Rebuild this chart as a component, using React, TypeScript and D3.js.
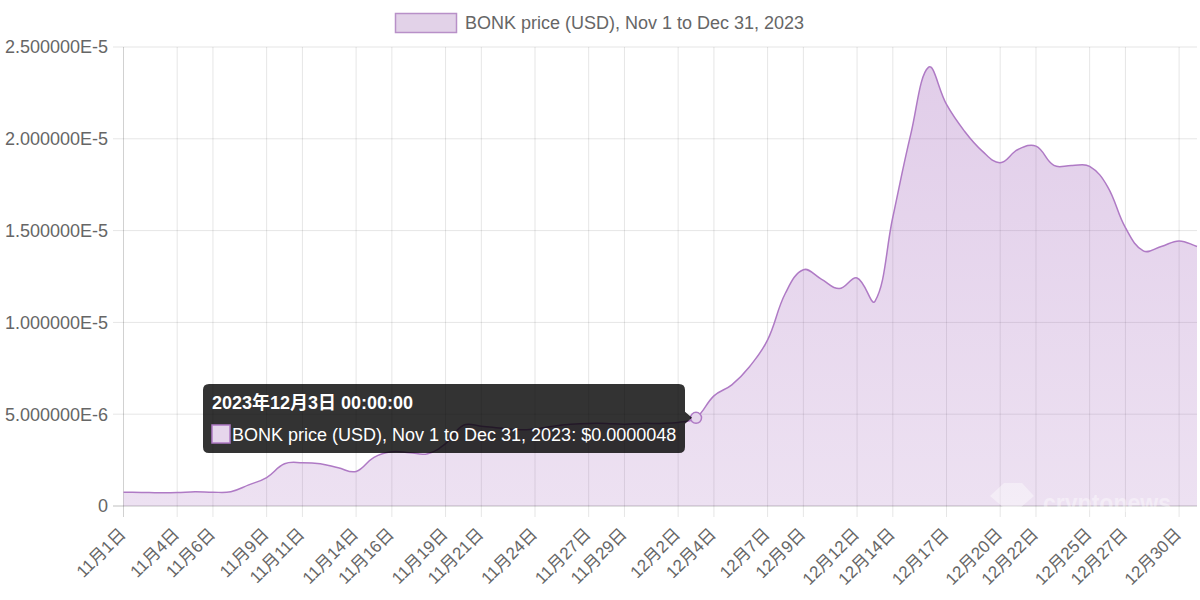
import React from 'react';
import * as d3 from 'd3';

// BONK daily price, Nov 1 - Dec 31 2023, in units of 1e-6 USD
const priceE6 = [
  0.75, 0.74, 0.72, 0.73, 0.78, 0.75, 0.78, 1.15, 1.55, 2.3,
  2.36, 2.3, 2.08, 1.88, 2.65, 2.95, 2.9, 2.85, 3.4, 4.4,
  4.35, 4.25, 4.15, 4.2, 4.35, 4.45, 4.5, 4.5, 4.45, 4.5,
  4.5, 4.55, 4.8, 6.0, 6.6, 7.6, 9.05, 11.6, 12.87, 12.36,
  11.84, 12.42, 11.15, 15.74, 20.24, 23.9, 21.87, 20.42, 19.33, 18.7,
  19.42, 19.6, 18.55, 18.55, 18.5, 17.4, 15.16, 13.9, 14.13, 14.44,
  14.13,
];

const tickDates = [
  '2023-11-01', '2023-11-04', '2023-11-06', '2023-11-09', '2023-11-11',
  '2023-11-14', '2023-11-16', '2023-11-19', '2023-11-21', '2023-11-24',
  '2023-11-27', '2023-11-29', '2023-12-02', '2023-12-04', '2023-12-07',
  '2023-12-09', '2023-12-12', '2023-12-14', '2023-12-17', '2023-12-20',
  '2023-12-22', '2023-12-25', '2023-12-27', '2023-12-30',
];

const yTicks = [0, 5e-6, 1e-5, 1.5e-5, 2e-5, 2.5e-5];

const seriesLabel = 'BONK price (USD), Nov 1 to Dec 31, 2023';
const hoverIndex = 32; // 12月3日

const parse = d3.timeParse('%Y-%m-%d');
const start = parse('2023-11-01')!;
const dates = d3.timeDay.range(start, d3.timeDay.offset(start, priceE6.length));
const data = dates.map((d, i) => ({ date: d, value: priceE6[i] * 1e-6 }));

const FONT = "'Liberation Sans', Arial, 'Noto Sans CJK SC', sans-serif";
const LINE = '#af7ac5';

// chart.js style spline (tension 0.4, distance weighted)
function chartSpline(context: any) {
  let pts: number[][] = [];
  return {
    areaStart() {},
    areaEnd() {},
    lineStart() {
      pts = [];
    },
    point(x: number, y: number) {
      pts.push([+x, +y]);
    },
    lineEnd() {
      const n = pts.length;
      if (!n) return;
      const t = 0.4;
      const cps = pts.map((p, i) => {
        const a = pts[Math.max(0, i - 1)];
        const b = pts[Math.min(n - 1, i + 1)];
        const d01 = Math.hypot(p[0] - a[0], p[1] - a[1]);
        const d12 = Math.hypot(b[0] - p[0], b[1] - p[1]);
        let s01 = d01 / (d01 + d12);
        let s12 = d12 / (d01 + d12);
        if (isNaN(s01)) s01 = 0;
        if (isNaN(s12)) s12 = 0;
        const fa = t * s01;
        const fb = t * s12;
        return {
          prev: [p[0] - fa * (b[0] - a[0]), p[1] - fa * (b[1] - a[1])],
          next: [p[0] + fb * (b[0] - a[0]), p[1] + fb * (b[1] - a[1])],
        };
      });
      context.moveTo(pts[0][0], pts[0][1]);
      for (let i = 1; i < n; i++) {
        context.bezierCurveTo(
          cps[i - 1].next[0], cps[i - 1].next[1],
          cps[i].prev[0], cps[i].prev[1],
          pts[i][0], pts[i][1]
        );
      }
    },
  };
}

export default function App() {
  const left = 123.5;
  const right = 1197;
  const top = 47;
  const bottom = 506;

  const x = d3
    .scaleTime()
    .domain([start, d3.timeDay.offset(start, 60)])
    .range([left, right]);
  const y = d3.scaleLinear().domain([0, 2.5e-5]).range([bottom, top]);

  const line = d3
    .line<{ date: Date; value: number }>()
    .x((d) => x(d.date))
    .y((d) => y(d.value))
    .curve(chartSpline as any);
  const linePath = line(data)!;
  const areaPath =
    linePath +
    `L${x(data[data.length - 1].date)},${y(0)}L${x(data[0].date)},${y(0)}Z`;

  const fmtTick = d3.timeFormat('%-m月%-d日');
  const fmtY = (v: number) => (v === 0 ? '0' : v.toExponential(6).toUpperCase());

  const hp = data[hoverIndex];
  const hx = x(hp.date);
  const hy = y(hp.value);

  return (
    <div style={{ position: 'absolute', left: 0, top: 0 }}>
      <svg width={1200} height={600} style={{ display: 'block', fontFamily: FONT }}>
        <defs>
          <linearGradient id="fillGrad" x1="0" y1="0" x2="0" y2="1">
            <stop offset="0%" stopColor="rgb(155,89,182)" stopOpacity={0.3} />
            <stop offset="100%" stopColor="rgb(155,89,182)" stopOpacity={0.18} />
          </linearGradient>
        </defs>

        {/* legend */}
        <rect x={395.5} y={13.5} width={61} height={19} fill="#e2d2e8" stroke="#b890c8" strokeWidth={1.5} />
        <text x={465} y={23} dy="0.35em" fontSize={18} fill="#666">
          {seriesLabel}
        </text>

        {/* y grid + labels */}
        {yTicks.map((t) => (
          <g key={t}>
            <line
              x1={113}
              x2={right}
              y1={y(t)}
              y2={y(t)}
              stroke={t === 0 ? 'rgba(0,0,0,0.25)' : 'rgba(0,0,0,0.1)'}
            />
            <text x={108} y={y(t)} dy="0.35em" textAnchor="end" fontSize={18} fill="#666">
              {fmtY(t)}
            </text>
          </g>
        ))}

        {/* x grid + labels */}
        {tickDates.map((s, i) => {
          const d = parse(s)!;
          const tx = x(d);
          return (
            <g key={s}>
              <line
                x1={tx}
                x2={tx}
                y1={top}
                y2={bottom + 11}
                stroke={i === 0 ? 'rgba(0,0,0,0.18)' : 'rgba(0,0,0,0.1)'}
              />
              <text
                transform={`translate(${tx - 1},${bottom + 25}) rotate(-45)`}
                textAnchor="end"
                dy="0.35em"
                fontSize={17}
                fill="#666"
              >
                {fmtTick(d)}
              </text>
            </g>
          );
        })}

        {/* area + line */}
        <path d={areaPath} fill="url(#fillGrad)" />
        <path d={linePath} fill="none" stroke={LINE} strokeWidth={1.5} />

        {/* watermark */}
        <g opacity={0.4} fill="#fff">
          <path d="M990,496 L1004,483 L1022,483 L1034,496 L1020,508 L1004,508 Z" />
          <text
            x={1043}
            y={512}
            fontSize={26}
            fontWeight="bold"
            fontFamily="'Liberation Sans', Arial"
            textLength={128}
            lengthAdjust="spacingAndGlyphs"
          >
            cryptonews
          </text>
        </g>

        {/* hovered point */}
        <circle cx={hx} cy={hy} r={5.5} fill="#e6d6ec" stroke={LINE} strokeWidth={1.5} />

        {/* tooltip */}
        <g>
          <path
            d={`M${203 + 6},384 H${685 - 6} Q685,384 685,390 V${hy - 6} L${hx - 4},${hy} L685,${hy + 6} V${453 - 6} Q685,453 ${685 - 6},453 H${203 + 6} Q203,453 203,${453 - 6} V390 Q203,384 ${203 + 6},384 Z`}
            fill="rgba(0,0,0,0.8)"
          />
          <text x={212} y={409} fontSize={18} fontWeight="bold" fill="#fff">
            2023年12月3日 00:00:00
          </text>
          <rect x={212} y={425} width={18} height={18} fill="#e6d6ec" stroke={LINE} strokeWidth={1.5} />
          <text x={232} y={441} fontSize={18} fill="#fff">
            {`${seriesLabel}: $${hp.value.toFixed(7)}`}
          </text>
        </g>
      </svg>
    </div>
  );
}
